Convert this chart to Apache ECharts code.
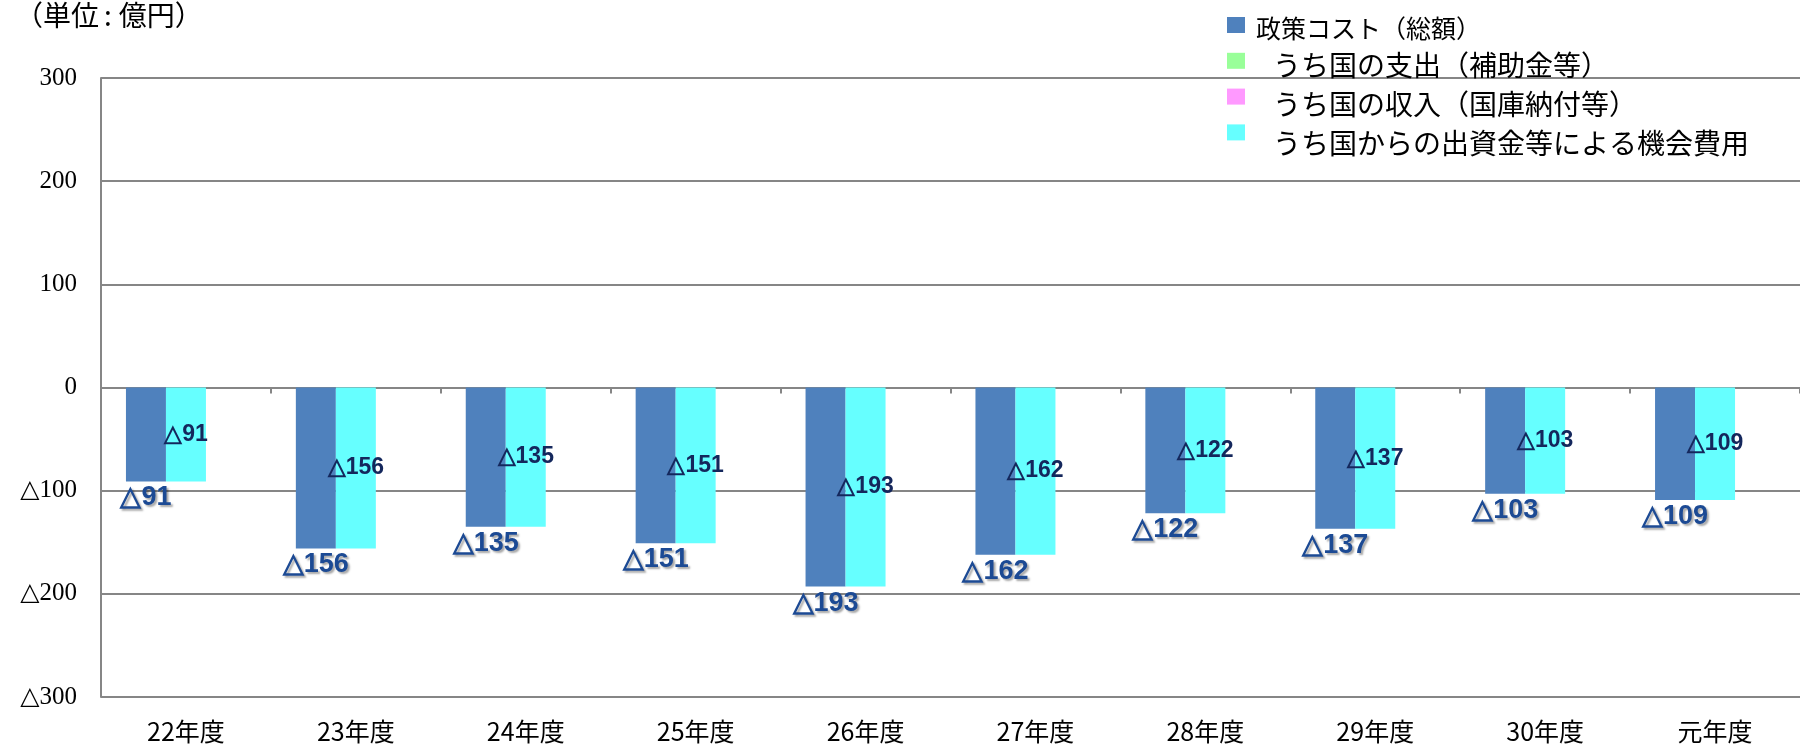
<!DOCTYPE html>
<html>
<head>
<meta charset="utf-8">
<script src="https://cdn.jsdelivr.net/npm/echarts@6/dist/echarts.min.js"></script>
<style>
  html, body { margin: 0; padding: 0; background: #fff; }
  #chart { width: 1800px; height: 746px; }
</style>
</head>
<body>
<div id="chart"></div>
<script>
// 年度
const categories = ['22年度', '23年度', '24年度', '25年度', '26年度', '27年度', '28年度', '29年度', '30年度', '元年度']
// 政策コスト（総額）
const totalCost = [-91, -156, -135, -151, -193, -162, -122, -137, -103, -109]
// うち国の支出（補助金等）
const spending = [0, 0, 0, 0, 0, 0, 0, 0, 0, 0]
// うち国の収入（国庫納付等）
const income = [0, 0, 0, 0, 0, 0, 0, 0, 0, 0]
// うち国からの出資金等による機会費用
const opportunity = [-91, -156, -135, -151, -193, -162, -122, -137, -103, -109]

const seriesNames = ['政策コスト（総額）', 'うち国の支出（補助金等）', 'うち国の収入（国庫納付等）', 'うち国からの出資金等による機会費用']
const colors = ['#4f81bd', '#99ff99', '#ff99ff', '#66ffff']

const tri = v => (v < 0 ? '△' + Math.abs(v) : String(v))
const gray = '#868686'
const jp = "'Noto Sans CJK JP', sans-serif"
const narrow = "'Liberation Sans Narrow', 'Liberation Sans', sans-serif"

const chart = echarts.init(document.getElementById('chart'))

chart.setOption({
  animation: false,
  title: {
    text: '（単位{c|:}億円）',
    left: 10,
    top: -4,
    textStyle: {
      fontFamily: jp, fontSize: 28, fontWeight: 'normal', color: '#000',
      rich: { c: { fontFamily: jp, fontSize: 28, color: '#000', padding: [0, 7, 0, 5] } }
    }
  },
  legend: [
    {
      // squares only
      orient: 'vertical',
      left: 1222,
      top: 12,
      icon: 'rect',
      itemWidth: 18,
      itemHeight: 16,
      itemGap: 19.8,
      data: seriesNames,
      formatter: () => '',
      textStyle: { fontSize: 8 }
    },
    {
      // texts only
      orient: 'vertical',
      left: 1246,
      top: 10.5,
      itemWidth: 0,
      itemHeight: 0,
      itemGap: 11,
      icon: 'none',
      data: seriesNames.map((n, i) => ({
        name: n,
        textStyle: i === 0 ? { fontSize: 25 } : { fontSize: 28, padding: [0, 0, 0, 17] }
      })),
      textStyle: { fontFamily: jp, fontSize: 28, color: '#000' }
    }
  ],
  grid: { left: 101, right: 0, top: 78, bottom: 49 },
  xAxis: [
    {
      type: 'category',
      data: categories,
      position: 'top',
      axisLine: { onZero: true, lineStyle: { color: gray, width: 2 } },
      axisTick: { show: true, inside: true, length: 6, lineStyle: { color: gray, width: 2 } },
      axisLabel: { show: false },
      splitLine: { show: false }
    },
    {
      type: 'category',
      data: categories,
      position: 'bottom',
      axisLine: { show: false },
      axisTick: { show: false },
      axisLabel: { margin: 22, fontFamily: jp, fontSize: 25, color: '#000' }
    }
  ],
  yAxis: {
    type: 'value',
    min: -300,
    max: 300,
    interval: 100,
    axisLine: { show: true, lineStyle: { color: gray, width: 2 } },
    axisTick: { show: false },
    splitLine: { lineStyle: { color: gray, width: 2 } },
    axisLabel: {
      margin: 24,
      formatter: tri,
      fontFamily: "'Liberation Serif', 'DejaVu Serif', serif",
      fontSize: 25,
      color: '#000'
    }
  },
  series: [
    {
      name: seriesNames[0],
      type: 'bar',
      data: totalCost,
      barWidth: 40,
      barGap: 0,
      itemStyle: { color: colors[0] },
      label: {
        show: true,
        position: 'bottom',
        distance: 3,
        formatter: p => tri(p.value),
        fontFamily: narrow,
        fontSize: 27,
        fontWeight: 'bold',
        color: '#1c4a94',
        textShadowColor: 'rgba(0,0,0,0.35)',
        textShadowBlur: 2,
        textShadowOffsetX: 2,
        textShadowOffsetY: 2
      }
    },
    {
      name: seriesNames[3],
      type: 'bar',
      data: opportunity,
      barWidth: 40,
      barGap: 0,
      itemStyle: { color: colors[3] },
      label: {
        show: true,
        position: 'inside',
        formatter: p => tri(p.value),
        fontFamily: narrow,
        fontSize: 23,
        fontWeight: 'bold',
        color: '#14275c'
      }
    },
    {
      name: seriesNames[1],
      type: 'bar',
      stack: 'zero',
      data: spending,
      barWidth: 40,
      barGap: 0,
      itemStyle: { color: colors[1] }
    },
    {
      name: seriesNames[2],
      type: 'bar',
      stack: 'zero',
      data: income,
      barWidth: 40,
      barGap: 0,
      itemStyle: { color: colors[2] }
    }
  ]
})
</script>
</body>
</html>
